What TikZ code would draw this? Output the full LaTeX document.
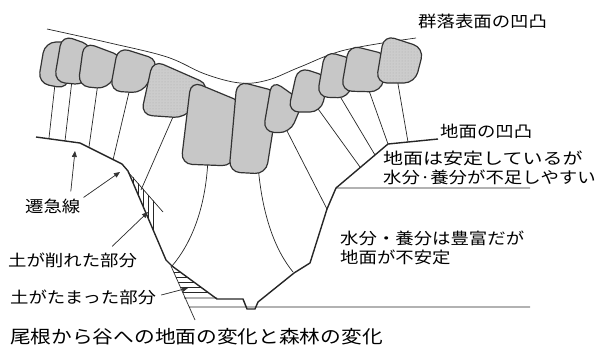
\documentclass[tikz,border=0pt]{standalone}
\usepackage{fontspec}
\newfontfamily\jp[FakeStretch=1.15]{Noto Sans CJK JP}
\newfontfamily\jpwide[FakeStretch=1.25]{Noto Sans CJK JP}
\usetikzlibrary{arrows.meta,patterns}
\tikzset{crown/.style={draw=black!80,fill=black!22,line width=1.2pt,rounded corners=11pt},
  crowndot/.style={crown,preaction={fill=black!20},pattern=dots,pattern color=black!32},
  trunk/.style={line width=0.7pt,draw=black!85},
  ground/.style={line width=1.4pt,draw=black!85,line join=round},
  arr/.style={-{Triangle[length=6pt,width=5pt]},line width=0.7pt,draw=black!80,fill=black!80},
  lbl/.style={anchor=west,inner sep=0pt,font=\jp\fontsize{16}{19}\selectfont}}

\begin{document}
\begin{tikzpicture}[x=1pt,y=-1pt]
\useasboundingbox (0,0) rectangle (598,346);
% canopy surface
\draw[trunk] plot[smooth,tension=0.6] coordinates {(47,29) (110,43) (167,57) (205,74) (240,83) (268,80) (300,67) (345,50) (416,38)};
% stems
\draw[trunk] (55,84) -- (49,138) (72,80) -- (65,141) (98,83) -- (89,147) (130,88) -- (113,160)
  (176,110) -- (141,190)
  (208,158) .. controls (206,210) and (190,245) .. (172,266)
  (258,165) .. controls (262,215) and (275,250) .. (293,272)
  (285,127) -- (327,209) (316,106) -- (360,167) (338,93) -- (375,155) (367,85) -- (388,144) (397,78) -- (408,142);
% crowns
\foreach \p in {{(38,83) (45,42) (72,42) (68,89)},{(54,82) (62,35) (93,46) (86,85)},
  {(78,86) (84,42) (124,57) (108,89)},{(110,91) (118,47) (159,60) (143,93)}}{
  \draw[crown] plot coordinates {\p} -- cycle;}
\draw[crowndot] (141,115) -- (153,60) -- (210,85) -- (185,118) -- cycle;
\foreach \p in {{(181,164) (191,81) (244,103) (233,166)},{(229,172) (237,81) (279,92) (266,174)},
  {(263,132) (272,80) (303,102) (290,133)},{(288,112) (298,67) (329,77) (321,112)},
  {(317,97) (325,51) (356,60) (349,98)},{(341,91) (349,45) (389,55) (381,92)}}{
  \draw[crown] plot coordinates {\p} -- cycle;}
\draw[crowndot] (376,83) -- (384,35) -- (424,48) -- (415,83) -- cycle;
% eroded and deposited soil
\begin{scope}
 \clip (128,171) -- (159,207) -- (159,244) -- cycle;
 \foreach \x in {133,138,...,153} \draw[trunk] (\x,165) -- (\x,250);
\end{scope}
\begin{scope}
 \clip (171,266) -- (185,298) -- (217,299) -- cycle;
 \foreach \y in {272,277,...,292} \draw[trunk] (165,\y) -- (220,\y);
\end{scope}
\draw[trunk] (128,172) -- (163,212) (171,266) -- (195,320) (184,298) -- (217,298)
  (189,307) -- (530,307) (336,188) -- (530,188);
% ground profile
\draw[ground] (36,137) -- (80,143) -- (122,164) -- (128,171) -- (166,260) -- (172,266) -- (217,299)
  -- (243,299) -- (247,309) -- (255,309) -- (258,302) -- (294,273) -- (310,263) -- (327,209)
  -- (336,188) -- (388,144) -- (438,139);
\coordinate (kinkA) at (75,151);
\coordinate (kinkB) at (120,172);
\coordinate (cutP) at (148,212);
\coordinate (depP) at (188,288);
\node[lbl] (canopy) at (418,21) {群落表面の凹凸};
\node[lbl] (surf) at (440,131) {地面の凹凸};
\node[lbl,font=\jpwide\fontsize{16}{19}\selectfont] (ridge1) at (383,158) {地面は安定しているが};
\node[lbl] (ridge2) at (383,177) {水分·養分が不足しやすい};
\node[lbl] (valley1) at (340,238) {水分・養分は豊富だが};
\node[lbl] (valley2) at (340,257) {地面が不安定};
\node[lbl] (knick) at (25,206) {遷急線};
\node[lbl] (cut) at (8,260) {土が削れた部分};
\node[lbl] (dep) at (10,297) {土がたまった部分};
\node[lbl,font=\jp\fontsize{18}{21}\selectfont] (title) at (10,337) {尾根から谷への地面の変化と森林の変化};
\draw[arr] ([xshift=18pt,yshift=7pt]knick.north) -- (kinkA);
\draw[arr] ([xshift=3pt,yshift=1pt]knick.north east) -- (kinkB);
\draw[arr] ([xshift=-25pt,yshift=6pt]cut.north east) -- (cutP);
\draw[arr] ([xshift=5pt,yshift=2pt]dep.east) -- (depP);
\end{tikzpicture}
\end{document}
